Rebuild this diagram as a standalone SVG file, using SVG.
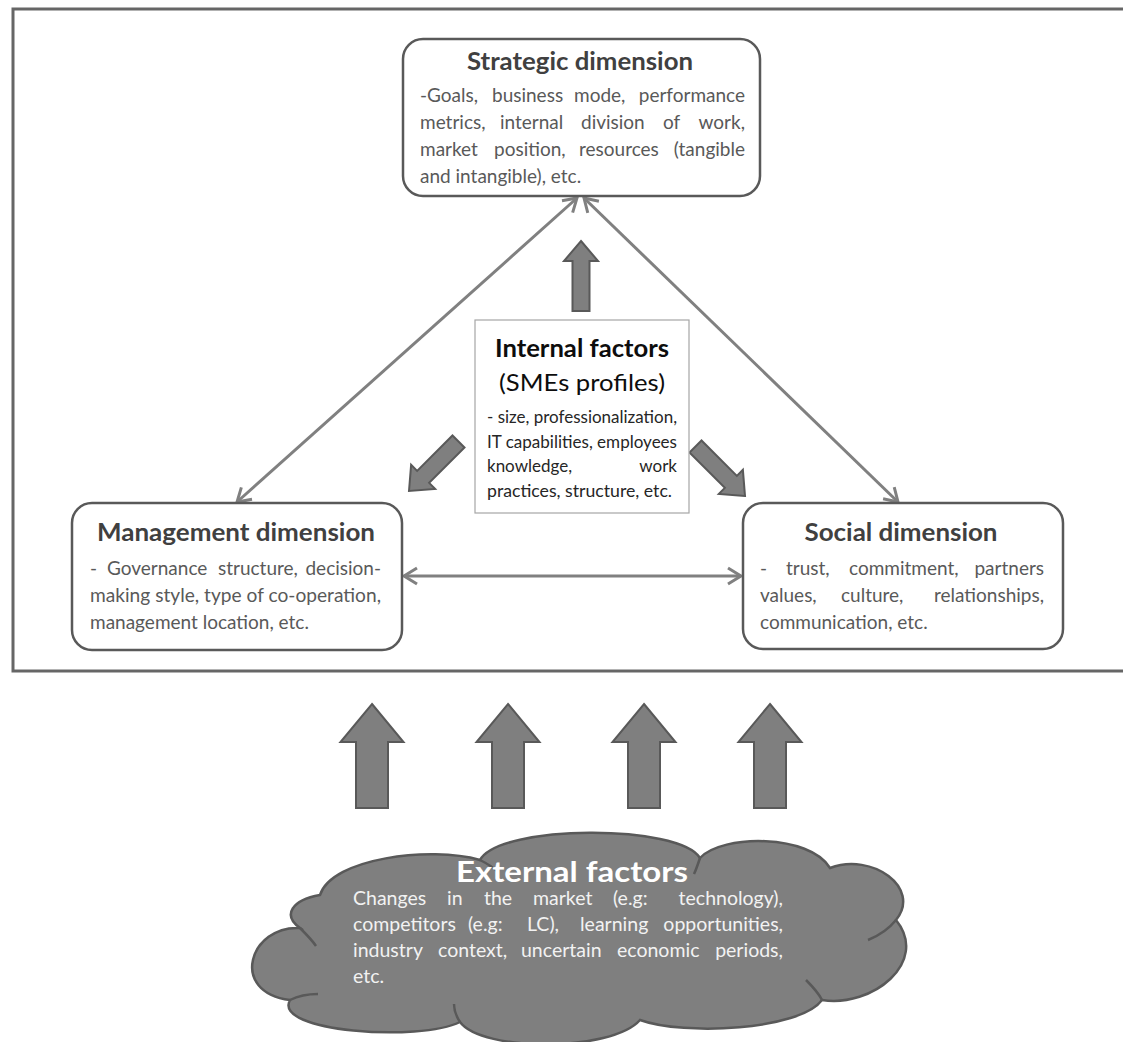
<svg xmlns="http://www.w3.org/2000/svg" width="1123" height="1042" viewBox="0 0 1123 1042">
  <defs>
    <style>
      .frame { fill: none; stroke: #666666; stroke-width: 3; }
      .dimbox { fill: #ffffff; stroke: #595959; stroke-width: 2.5; }
      .intbox { fill: #ffffff; stroke: #a6a6a6; stroke-width: 1.2; }
      .title { font-family: Lato, "Liberation Sans", sans-serif; font-weight: bold; font-size: 24px; fill: #404040; }
      .body { font-family: Lato, "Liberation Sans", sans-serif; font-size: 19px; fill: #595959; }
      .ititle { font-family: Lato, "Liberation Sans", sans-serif; font-size: 24px; fill: #0d0d0d; }
      .ibody { font-family: Lato, "Liberation Sans", sans-serif; font-size: 17px; fill: #262626; }
      .ctitle { font-family: Lato, "Liberation Sans", sans-serif; font-weight: bold; font-size: 28px; fill: #ffffff; }
      .cbody { font-family: Lato, "Liberation Sans", sans-serif; font-size: 19.5px; fill: #f2f2f2; }
      .link { fill: none; stroke: #808080; stroke-width: 3; }
      .block { fill: #7f7f7f; stroke: #595959; stroke-width: 2; stroke-linejoin: miter; }
      .cloud { fill: #7f7f7f; stroke: #595959; stroke-width: 2.5; }
      .cloudline { fill: none; stroke: #595959; stroke-width: 2.5; }
    </style>
    <marker id="chev" markerUnits="userSpaceOnUse" viewBox="-16 -10 20 20" refX="0" refY="0"
            markerWidth="20" markerHeight="20" orient="auto-start-reverse">
      <path d="M-13,-8 L0,0 L-13,8" fill="none" stroke="#808080" stroke-width="3"/>
    </marker>
    <!-- block arrow pointing up, tip at origin -->
    <polygon id="smallArrow" class="block" points="0,0 17,20 8.5,20 8.5,70 -8.5,70 -8.5,20 -17,20"/>
    <polygon id="bigArrow" class="block" points="0,0 31.5,38 16,38 16,104 -16,104 -16,38 -31.5,38"/>
  </defs>

  <rect width="1123" height="1042" fill="#ffffff"/>

  <!-- enclosing frame, open on the right -->
  <rect class="frame" x="13" y="9" width="1130" height="662"/>

  <!-- connectors between the three dimensions -->
  <g id="connectors">
    <line class="link" x1="577" y1="198" x2="237" y2="502" marker-start="url(#chev)" marker-end="url(#chev)"/>
    <line class="link" x1="584" y1="198" x2="898" y2="502" marker-start="url(#chev)" marker-end="url(#chev)"/>
    <line class="link" x1="404" y1="576" x2="741" y2="576" marker-start="url(#chev)" marker-end="url(#chev)"/>
    <!-- internal influence arrows -->
    <use href="#smallArrow" transform="translate(581,241)"/>
    <use href="#smallArrow" transform="translate(409,491) rotate(-135)"/>
    <use href="#smallArrow" transform="translate(745,496) rotate(135)"/>
    <!-- external influence arrows -->
    <use href="#bigArrow" transform="translate(372,704)"/>
    <use href="#bigArrow" transform="translate(508,704)"/>
    <use href="#bigArrow" transform="translate(644,704)"/>
    <use href="#bigArrow" transform="translate(770,704)"/>
  </g>

  <g id="strategic">
    <rect class="dimbox" x="403" y="39" width="357" height="157" rx="20"/>
    <text class="title" x="580" y="70" text-anchor="middle" textLength="226" lengthAdjust="spacingAndGlyphs">Strategic dimension</text>
    <text class="body" y="102"><tspan x="420">-Goals,</tspan><tspan x="492">business</tspan><tspan x="574">mode,</tspan><tspan x="745" text-anchor="end">performance</tspan></text>
    <text class="body" y="129"><tspan x="420">metrics,</tspan><tspan x="500">internal</tspan><tspan x="581">division</tspan><tspan x="663">of</tspan><tspan x="745" text-anchor="end">work,</tspan></text>
    <text class="body" y="156"><tspan x="420">market</tspan><tspan x="494">position,</tspan><tspan x="579">resources</tspan><tspan x="745" text-anchor="end">(tangible</tspan></text>
    <text class="body" x="420" y="183">and intangible), etc.</text>
  </g>

  <g id="internal">
    <rect class="intbox" x="475" y="320" width="214" height="193"/>
    <text class="ititle" x="582" y="357" text-anchor="middle" font-weight="bold" textLength="174" lengthAdjust="spacingAndGlyphs">Internal factors</text>
    <text class="ititle" x="582" y="391" text-anchor="middle" textLength="166" lengthAdjust="spacingAndGlyphs">(SMEs profiles)</text>
    <text class="ibody" x="487" y="423" textLength="190" lengthAdjust="spacingAndGlyphs">- size, professionalization,</text>
    <text class="ibody" x="487" y="447.5" textLength="190" lengthAdjust="spacingAndGlyphs">IT capabilities, employees</text>
    <text class="ibody" y="472"><tspan x="487">knowledge,</tspan><tspan x="677" text-anchor="end">work</tspan></text>
    <text class="ibody" x="487" y="496.5" textLength="185" lengthAdjust="spacingAndGlyphs">practices, structure, etc.</text>
  </g>

  <g id="management">
    <rect class="dimbox" x="72" y="503" width="330" height="147" rx="20"/>
    <text class="title" x="236" y="541" text-anchor="middle" textLength="278" lengthAdjust="spacingAndGlyphs">Management dimension</text>
    <text class="body" y="575"><tspan x="90">-</tspan><tspan x="107">Governance</tspan><tspan x="218">structure,</tspan><tspan x="381" text-anchor="end">decision-</tspan></text>
    <text class="body" x="90" y="602" textLength="291" lengthAdjust="spacingAndGlyphs">making style, type of co-operation,</text>
    <text class="body" x="90" y="629">management location, etc.</text>
  </g>

  <g id="social">
    <rect class="dimbox" x="743" y="503" width="320" height="146" rx="20"/>
    <text class="title" x="901" y="541" text-anchor="middle" textLength="193" lengthAdjust="spacingAndGlyphs">Social dimension</text>
    <text class="body" y="575"><tspan x="760">-</tspan><tspan x="786">trust,</tspan><tspan x="849">commitment,</tspan><tspan x="1044" text-anchor="end">partners</tspan></text>
    <text class="body" y="602"><tspan x="760">values,</tspan><tspan x="841">culture,</tspan><tspan x="1044" text-anchor="end">relationships,</tspan></text>
    <text class="body" x="760" y="629">communication, etc.</text>
  </g>

  <g id="external">
    <path class="cloud" d="M300,928
      C250,925 228,992 290,1000
      C272,1032 420,1042 460,1022
      C482,1052 612,1052 640,1020
      C684,1036 800,1030 822,1000
      C872,1008 930,962 896,920
      C922,888 872,852 830,868
      C810,834 722,834 700,858
      C680,824 500,824 480,860
      C430,846 332,858 320,895
      C292,900 282,915 300,928 Z"/>
    <!-- inner cloud seams -->
    <path class="cloudline" d="M300,928 C306,934 312,940 316,946"/>
    <path class="cloudline" d="M290,1000 C298,996 308,994 318,994"/>
    <path class="cloudline" d="M460,1022 C456,1016 454,1010 454,1004"/>
    <path class="cloudline" d="M822,1000 C818,992 812,986 806,980"/>
    <path class="cloudline" d="M896,920 C888,930 878,936 868,940"/>
    <path class="cloudline" d="M700,858 C698,864 696,870 694,874"/>
    <path class="cloudline" d="M480,860 C488,864 494,868 498,872"/>
    <text class="ctitle" x="572" y="882" text-anchor="middle" textLength="232" lengthAdjust="spacingAndGlyphs">External factors</text>
    <text class="cbody" y="905"><tspan x="353">Changes</tspan><tspan x="447">in</tspan><tspan x="484">the</tspan><tspan x="533">market</tspan><tspan x="613">(e.g:</tspan><tspan x="783" text-anchor="end">technology),</tspan></text>
    <text class="cbody" y="931"><tspan x="353">competitors</tspan><tspan x="468">(e.g:</tspan><tspan x="527">LC),</tspan><tspan x="580">learning</tspan><tspan x="783" text-anchor="end">opportunities,</tspan></text>
    <text class="cbody" y="957"><tspan x="353">industry</tspan><tspan x="438">context,</tspan><tspan x="521">uncertain</tspan><tspan x="617">economic</tspan><tspan x="783" text-anchor="end">periods,</tspan></text>
    <text class="cbody" x="353" y="983">etc.</text>
  </g>
</svg>
